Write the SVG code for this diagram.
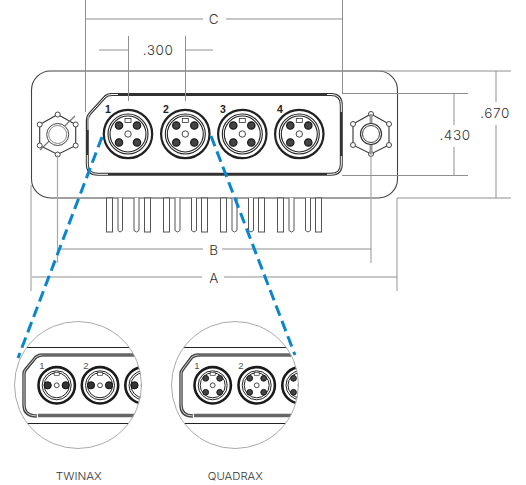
<svg xmlns="http://www.w3.org/2000/svg" xmlns:xlink="http://www.w3.org/1999/xlink" width="526" height="485" viewBox="0 0 526 485">
<style>
.dim{stroke:#8f8f8f;stroke-width:1;fill:none}
.ext{stroke:#a8a8a8;stroke-width:1.2;fill:none}
.dash{stroke:#0a85cf;stroke-width:3;fill:none;stroke-dasharray:11 5.5}
.t{font-family:"Inter","Liberation Sans",sans-serif;font-weight:300;fill:#333;font-size:13.5px;letter-spacing:.6px;text-anchor:middle}
.n{font-family:"Liberation Sans",sans-serif;font-weight:700;fill:#222;font-size:10.5px;text-anchor:middle}
.m{font-family:"Liberation Sans",sans-serif;fill:#555;font-size:9.5px;text-anchor:middle}
.c{font-family:"Inter","Liberation Sans",sans-serif;font-weight:300;fill:#333;font-size:10px;text-anchor:middle}
</style>
<defs>
<g id="conn">
<circle r="24.2" fill="#fff" stroke="#222" stroke-width="2.2"/>
<circle r="20" fill="none" stroke="#222" stroke-width="1.1"/>
<circle r="18" fill="none" stroke="#222" stroke-width="1.1"/>
<rect x="-3" y="-15.500" width="6" height="4" fill="#fff" stroke="#333" stroke-width=".8"/>
<g fill="#444" stroke="#1a1a1a" stroke-width="1.200">
<circle cx="-9" cy="-8.500" r="3.700"/><circle cx="9" cy="-8.500" r="3.700"/><circle cx="-9" cy="8.500" r="3.700"/><circle cx="9" cy="8.500" r="3.700"/>
</g>
<circle r="3.200" fill="#fff" stroke="#333" stroke-width=".9"/>
</g>
<g id="nut">
<polygon points="0,-20 18,-10 18,11 0,20 -18,11 -18,-10" fill="#fff" stroke="#333" stroke-width="1.100"/>
<g fill="#fff" stroke="#444" stroke-width="1">
<circle cy="-20" r="2.500"/><circle cx="18" cy="-10" r="2.500"/><circle cx="18" cy="11" r="2.500"/><circle cy="20" r="2.500"/><circle cx="-18" cy="11" r="2.500"/><circle cx="-18" cy="-10" r="2.500"/>
</g>
</g>
<g id="tw">
<circle r="18.200" fill="#fff" stroke="#1a1a1a" stroke-width="2.600"/>
<circle r="14.500" fill="none" stroke="#222" stroke-width="1"/>
<circle r="12.500" fill="none" stroke="#222" stroke-width="1"/>
<rect x="-2.500" y="-13" width="5" height="3" fill="#fff" stroke="#333" stroke-width=".7"/>
<circle cx="-9" r="3.600" fill="#333" stroke="#111"/><circle cx="9" r="3.600" fill="#333" stroke="#111"/>
<circle r="2.400" fill="#fff" stroke="#333" stroke-width=".9"/>
</g>
<g id="qd">
<circle r="18.200" fill="#fff" stroke="#1a1a1a" stroke-width="2.600"/>
<circle r="14.500" fill="none" stroke="#222" stroke-width="1"/>
<circle r="12.500" fill="none" stroke="#222" stroke-width="1"/>
<rect x="-2.500" y="-13" width="5" height="3" fill="#fff" stroke="#333" stroke-width=".7"/>
<g fill="#444" stroke="#1a1a1a" stroke-width="1">
<circle cx="-7" cy="-7" r="2.900"/><circle cx="7" cy="-7" r="2.900"/><circle cx="-7" cy="7" r="2.900"/><circle cx="7" cy="7" r="2.900"/>
</g>
<circle r="2.400" fill="#fff" stroke="#333" stroke-width=".9"/>
</g>
<clipPath id="c1"><circle cx="78" cy="385" r="63.500"/></clipPath>
<clipPath id="c2"><circle cx="235" cy="385" r="63.500"/></clipPath>
</defs>

<rect width="526" height="485" fill="#fff"/>

<g id="plate">
<rect x="31.500" y="71" width="366" height="127" rx="19" fill="#fff" stroke="#444" stroke-width="1.100"/>
</g>

<g id="pins" fill="#fff" stroke="#555" stroke-width="1">
<rect x="106.500" y="198" width="6" height="34"/><path d="M118,198V230.500L120,232L122.500,230.500V198"/>
<path d="M134,198V230.500L136.500,232L139,230.500V198"/><rect x="144.500" y="198" width="6" height="34"/>
<rect x="163.500" y="198" width="6" height="34"/><path d="M175,198V230.500L177.500,232L180,230.500V198"/>
<path d="M191.500,198V230.500L194,232L196.500,230.500V198"/><rect x="201.500" y="198" width="6" height="34"/>
<rect x="220.500" y="198" width="6" height="34"/><path d="M232,198V230.500L234.500,232L237,230.500V198"/>
<path d="M248.500,198V230.500L251,232L253.500,230.500V198"/><rect x="258.500" y="198" width="6" height="34"/>
<rect x="277.500" y="198" width="6" height="34"/><path d="M289,198V230.500L291.500,232L294,230.500V198"/>
<path d="M305.500,198V230.500L308,232L310.500,230.500V198"/><rect x="315.500" y="198" width="6" height="34"/>
</g>

<g id="shell-main" fill="none">
<path d="M110,94.500H331Q341.300,94.500 341.300,105V164Q341.300,174.300 331,174.300H98Q87.300,174.300 87.300,164V120Q87.300,116.500 90,113.500L105,97Q107,94.500 112,94.500Z" fill="#fff" stroke="#333" stroke-width="3"/>
<path d="M88,130V120Q87.300,116.500 90,113.500L105,97Q107,94.500 112,94.500H118M327,94.500H331Q341.300,94.500 341.300,105V112M341.300,156V164Q341.300,174.300 331,174.300H327M108,174.300H98Q87.300,174.300 87.300,164V155" stroke="#fff" stroke-width="1"/>
</g>

<g id="nut-left">
<use xlink:href="#nut" href="#nut" x="57.700" y="134.500"/>
<path d="M40,150L75,116" stroke="#777" stroke-width="1.200"/>
<circle cx="57.700" cy="134.500" r="11" fill="#fff" stroke="#444" stroke-width="1"/>
<circle cx="57.700" cy="134.500" r="9" fill="#fff" stroke="#888" stroke-width="1"/>
</g>
<g id="nut-right">
<use xlink:href="#nut" href="#nut" x="371" y="134"/>
<path d="M371,114V154" stroke="#999" stroke-width="3"/>
<circle cx="371" cy="134" r="10.500" fill="#fff" stroke="#333" stroke-width="1.200"/>
<circle cx="371" cy="134" r="8.500" fill="#fff" stroke="#444" stroke-width="1"/>
</g>

<g id="conn-1"><use xlink:href="#conn" href="#conn" x="128" y="134"/><text class="n" x="108" y="112.500">1</text></g>
<g id="conn-2"><use xlink:href="#conn" href="#conn" x="185.300" y="134"/><text class="n" x="166" y="112.500">2</text></g>
<g id="conn-3"><use xlink:href="#conn" href="#conn" x="242.300" y="134"/><text class="n" x="223" y="112.500">3</text></g>
<g id="conn-4"><use xlink:href="#conn" href="#conn" x="299.300" y="134"/><text class="n" x="280" y="112.500">4</text></g>

<g id="connectors">
<path class="dim" d="M85.500,0V112M342.500,0V93"/>
<path class="dim" d="M128.500,36V101M185.500,36V101"/>
<path class="dim" d="M86,19H203M226,19H342"/>
<path class="dim" d="M99,50H128M186,50H213"/>
<path class="ext" d="M31,185V291M397,198V291"/>
<path class="ext" d="M57.500,155V263M371,154V263"/>
<path class="dim" d="M58,249H203M222,249H371"/>
<path class="dim" d="M32,277H202M224,277H397"/>
<path class="dim" d="M380,71H511M397,198H511"/>
<path class="dim" d="M342,93.500H468M342,175.500H468"/>
<path class="dim" d="M496,71V102M496,125V198"/>
<path class="dim" d="M454,94V125M454,147V175"/>
<path class="dash" d="M102,137L18,358"/>
<path class="dash" d="M211,136L295,355"/>
</g>

<g id="labels">
<text class="t" x="214" y="24">C</text>
<text class="t" x="158" y="55">.300</text>
<text class="t" x="455" y="140">.430</text>
<text class="t" x="495" y="118">.670</text>
<text class="t" x="214" y="255">B</text>
<text class="t" x="214" y="283">A</text>
</g>

<g id="inset-twinax">
<circle cx="78" cy="385" r="63.500" fill="#fff"/>
<g clip-path="url(#c1)">
<path d="M10,347.500H150M10,423.500H150" stroke="#222" stroke-width="1" fill="none"/>
<path d="M42,355H150M38,415.500H150" stroke="#666" stroke-width="3.400" fill="none"/>
<path d="M42,355Q39,355 36,357L26,369Q24,371 24,374V405Q24,416 37,416" fill="none" stroke="#444" stroke-width="3.400"/>
<path d="M42,355Q39,355 36,357L26,369Q24,371 24,374V405Q24,416 37,416" fill="none" stroke="#ddd" stroke-width=".9"/>
<use xlink:href="#tw" href="#tw" x="56.700" y="385.300"/>
<use xlink:href="#tw" href="#tw" x="100" y="385.300"/>
<use xlink:href="#tw" href="#tw" x="143.500" y="385.300"/>
<text class="m" x="42" y="369">1</text>
<text class="m" x="86" y="369">2</text>
</g>
<circle cx="78" cy="385" r="63.500" fill="none" stroke="#aaa" stroke-width="1"/>
</g>

<g id="inset-quadrax">
<circle cx="235" cy="385" r="63.500" fill="#fff"/>
<g clip-path="url(#c2)">
<path d="M165,347.500H305M165,423.500H305" stroke="#222" stroke-width="1" fill="none"/>
<path d="M198,355H305M194,415.500H305" stroke="#666" stroke-width="3.400" fill="none"/>
<path d="M198,355Q195,355 192,357L183,369Q181,371 181,374V405Q181,416 193,416" fill="none" stroke="#444" stroke-width="3.400"/>
<path d="M198,355Q195,355 192,357L183,369Q181,371 181,374V405Q181,416 193,416" fill="none" stroke="#ddd" stroke-width=".9"/>
<use xlink:href="#qd" href="#qd" x="212.700" y="385.300"/>
<use xlink:href="#qd" href="#qd" x="256.700" y="385.300"/>
<use xlink:href="#qd" href="#qd" x="300.500" y="385.300"/>
<text class="m" x="197" y="369">1</text>
<text class="m" x="241" y="369">2</text>
</g>
<circle cx="235" cy="385" r="63.500" fill="none" stroke="#aaa" stroke-width="1"/>
</g>

<g id="captions">
<text class="c" x="78.800" y="479.500" textLength="46" lengthAdjust="spacingAndGlyphs">TWINAX</text>
<text class="c" x="235.300" y="479.500" textLength="55" lengthAdjust="spacingAndGlyphs">QUADRAX</text>
</g>
</svg>
